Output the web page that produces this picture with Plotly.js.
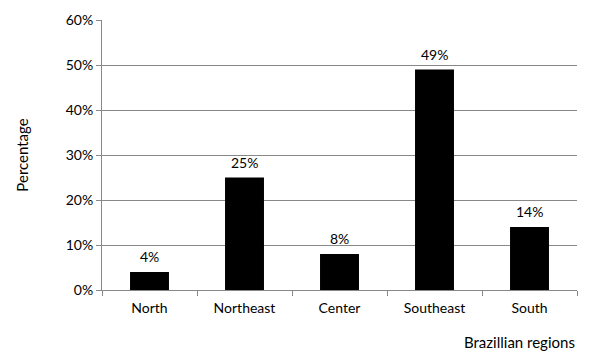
<!DOCTYPE html>
<html>
<head>
<meta charset="utf-8">
<script src="https://cdn.plot.ly/plotly-3.0.1.min.js"></script>
<style>html,body{margin:0;padding:0;background:#fff;}#chart{width:600px;height:360px;}</style>
</head>
<body>
<div id="chart"></div>
<script>
const categories = ["North", "Northeast", "Center", "Southeast", "South"];
const values = [0.04, 0.25, 0.08, 0.49, 0.14];
const valueLabels = ["4%", "25%", "8%", "49%", "14%"];
const yTickValues = [0, 0.1, 0.2, 0.3, 0.4, 0.5, 0.6];
const yTickLabels = ["0%", "10%", "20%", "30%", "40%", "50%", "60%"];

const font = "Lato, 'Open Sans', sans-serif";
const data = [{
  type: "bar",
  x: categories,
  y: values,
  marker: {color: "#000", line: {width: 0}},
  hoverinfo: "none"
}];
const valueAnnotations = categories.map((c, i) => ({
  x: c, y: values[i], xref: "x", yref: "y",
  text: valueLabels[i], showarrow: false,
  xanchor: "center", yanchor: "bottom", yshift: 5,
  font: {family: font, size: 14, color: "#000"}
}));
const layout = {
  width: 600, height: 360,
  margin: {l: 102, r: 23, t: 20, b: 70},
  paper_bgcolor: "#fff", plot_bgcolor: "#fff",
  bargap: 0.59,
  showlegend: false,
  font: {family: font, size: 14, color: "#000"},
  xaxis: {
    showline: true, linecolor: "#888", linewidth: 1,
    ticks: "outside", tickson: "boundaries", ticklen: 5, tickcolor: "#888",
    ticklabelstandoff: 5,
    showgrid: false, zeroline: false,
    tickfont: {family: font, size: 14, color: "#000"}
  },
  yaxis: {
    range: [0, 0.6],
    tickvals: yTickValues, ticktext: yTickLabels,
    showline: true, linecolor: "#888", linewidth: 1,
    ticks: "outside", ticklen: 5, tickcolor: "#888",
    showgrid: true, gridcolor: "#888", gridwidth: 1,
    zeroline: false,
    tickfont: {family: font, size: 14, color: "#000"},
    title: {text: "Percentage", font: {family: font, size: 15, color: "#000"}, standoff: 33}
  },
  annotations: valueAnnotations.concat([{
    text: "Brazillian regions", xref: "paper", yref: "paper",
    x: 1, y: 0, xanchor: "right", yanchor: "top", yshift: -41,
    showarrow: false, font: {family: font, size: 15, color: "#000"}
  }])
};
Plotly.newPlot("chart", data, layout, {displayModeBar: false, staticPlot: true});
</script>
</body>
</html>
